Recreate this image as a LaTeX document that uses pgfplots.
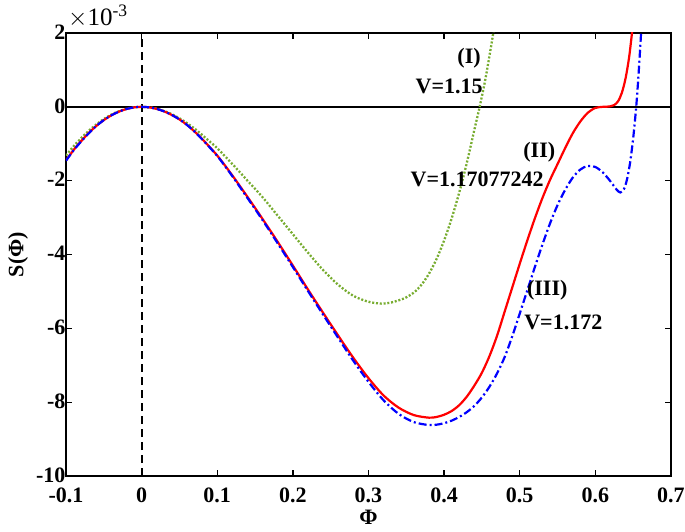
\documentclass[border=0pt]{standalone}
\usepackage{pgfplots}
\pgfplotsset{compat=1.18}
\usepackage{fontspec}
\setmainfont{Liberation Serif}
\definecolor{mgreen}{rgb}{0.466,0.674,0.188}
\begin{document}
\begin{tikzpicture}
\begin{axis}[
  at={(0,0)}, anchor=south west,
  scale only axis, width=605pt, height=443pt,
  xmin=-0.1, xmax=0.7, ymin=-10, ymax=2,
  xtick={-0.1,0,0.1,0.2,0.3,0.4,0.5,0.6,0.7},
  xticklabels={-0.1,0,0.1,0.2,0.3,0.4,0.5,0.6,0.7},
  ytick={-10,-8,-6,-4,-2,0,2},
  yticklabels={-10,-8,-6,-4,-2,0,2},
  tick align=inside, major tick length=6pt,
  xtick pos=both, ytick pos=both,
  axis line style={line width=1.5pt},
  tick style={line width=1.3pt, black},
  ticklabel style={font=\fontsize{22}{24}\selectfont\bfseries},
  yticklabel style={xshift=3pt, yshift=1pt},
  xticklabel style={yshift=-8pt},
  xlabel={Φ}, ylabel={S(Φ)},
  label style={font=\fontsize{22}{24}\selectfont\bfseries},
  xlabel style={at={(axis description cs:0.5,-0.094)}, anchor=center},
  ylabel style={at={(axis description cs:-0.079,0.5)}, anchor=center},
  clip mode=individual,
]
\addplot[black, line width=1.5pt] coordinates {(-0.1,0) (0.7,0)};
\addplot[black, line width=2pt, dash pattern=on 8pt off 5pt] coordinates {(0,-10) (0,2)};

% (I) V=1.15
\addplot[mgreen, line width=2.3pt, dash pattern=on 2pt off 1.8pt, smooth] coordinates {
(-0.1,-1.32) (-0.09,-1.07) (-0.08,-0.85) (-0.07,-0.65) (-0.06,-0.48) (-0.05,-0.33)
(-0.04,-0.21) (-0.03,-0.12) (-0.02,-0.053) (-0.01,-0.013) (0,0) (0.01,-0.013)
(0.02,-0.052) (0.03,-0.115) (0.04,-0.2) (0.05,-0.31) (0.06,-0.44) (0.07,-0.59)
(0.08,-0.76) (0.09,-0.94) (0.1,-1.12) (0.12,-1.55) (0.14,-2.0) (0.16,-2.45)
(0.18,-2.95) (0.2,-3.45) (0.22,-3.95) (0.24,-4.42) (0.26,-4.82) (0.28,-5.12)
(0.3,-5.28) (0.317,-5.33) (0.33,-5.3) (0.347,-5.19) (0.36,-5.03) (0.37,-4.82)
(0.38,-4.52) (0.39,-4.12) (0.4,-3.62) (0.41,-3.02) (0.42,-2.32) (0.43,-1.52)
(0.44,-0.62) (0.447,0) (0.455,0.8) (0.465,2.0) (0.47,2.7)};

% (II) V=1.17077242
\addplot[red, line width=2.2pt, smooth] coordinates {
(-0.1,-1.45) (-0.09,-1.17) (-0.08,-0.93) (-0.07,-0.71) (-0.06,-0.52) (-0.05,-0.36)
(-0.04,-0.23) (-0.03,-0.13) (-0.02,-0.058) (-0.01,-0.015) (0,0) (0.01,-0.014)
(0.02,-0.056) (0.03,-0.125) (0.04,-0.22) (0.05,-0.34) (0.06,-0.49) (0.07,-0.67)
(0.08,-0.87) (0.1,-1.32) (0.12,-1.86) (0.14,-2.44) (0.16,-3.04) (0.18,-3.66)
(0.2,-4.3) (0.22,-4.95) (0.24,-5.58) (0.26,-6.2) (0.28,-6.8) (0.3,-7.35)
(0.32,-7.82) (0.34,-8.15) (0.36,-8.35) (0.38,-8.42) (0.39,-8.40) (0.40,-8.34)
(0.41,-8.24) (0.42,-8.08) (0.43,-7.85) (0.44,-7.55) (0.45,-7.2) (0.46,-6.75)
(0.47,-6.2) (0.48,-5.55) (0.49,-4.9) (0.50,-4.25) (0.51,-3.62) (0.52,-3.02)
(0.53,-2.47) (0.54,-1.98) (0.55,-1.55) (0.56,-1.12) (0.57,-0.72) (0.58,-0.40)
(0.59,-0.16) (0.60,-0.03) (0.61,0) (0.615,0.003) (0.62,0.015) (0.625,0.05)
(0.63,0.15) (0.635,0.38) (0.64,0.78) (0.645,1.4) (0.65,2.3)};

% (III) V=1.172
\addplot[blue, line width=2.2pt, dash pattern=on 8pt off 3pt on 2pt off 3pt, smooth] coordinates {
(-0.1,-1.46) (-0.09,-1.18) (-0.08,-0.94) (-0.07,-0.72) (-0.06,-0.52) (-0.05,-0.36)
(-0.04,-0.23) (-0.03,-0.13) (-0.02,-0.058) (-0.01,-0.015) (0,0) (0.01,-0.014)
(0.02,-0.056) (0.03,-0.125) (0.04,-0.22) (0.05,-0.34) (0.06,-0.49) (0.07,-0.67)
(0.08,-0.88) (0.1,-1.33) (0.12,-1.88) (0.14,-2.47) (0.16,-3.07) (0.18,-3.7)
(0.2,-4.34) (0.22,-4.99) (0.24,-5.63) (0.26,-6.26) (0.28,-6.88) (0.3,-7.45)
(0.32,-7.95) (0.34,-8.32) (0.36,-8.54) (0.38,-8.62) (0.39,-8.61) (0.40,-8.57)
(0.41,-8.50) (0.42,-8.40) (0.43,-8.27) (0.44,-8.10) (0.45,-7.87) (0.46,-7.58)
(0.47,-7.22) (0.48,-6.78) (0.49,-6.22) (0.50,-5.6) (0.51,-4.97) (0.52,-4.34)
(0.53,-3.73) (0.54,-3.16) (0.55,-2.66) (0.56,-2.25) (0.57,-1.92) (0.58,-1.7)
(0.59,-1.6) (0.60,-1.63) (0.61,-1.78) (0.62,-2.02) (0.628,-2.24) (0.633,-2.32)
(0.638,-2.22) (0.642,-1.95) (0.646,-1.5) (0.65,-0.85) (0.654,0) (0.657,0.85)
(0.66,1.85) (0.662,2.6)};

\node[font=\fontsize{22}{24}\selectfont\bfseries] at (axis cs:0.433,1.32) {(I)};
\node[font=\fontsize{22}{24}\selectfont\bfseries] at (axis cs:0.4066,0.54) {V=1.15};
\node[font=\fontsize{22}{24}\selectfont\bfseries] at (axis cs:0.5258,-1.22) {(II)};
\node[font=\fontsize{22}{24}\selectfont\bfseries] at (axis cs:0.4437,-1.97) {V=1.17077242};
\node[font=\fontsize{22}{24}\selectfont\bfseries] at (axis cs:0.5364,-4.97) {(III)};
\node[font=\fontsize{22}{24}\selectfont\bfseries] at (axis cs:0.5576,-5.84) {V=1.172};
\node[anchor=south west, inner sep=0pt, xshift=2pt, yshift=5pt, font=\fontsize{25}{27}\selectfont] at (rel axis cs:0,1) {$\times$10\textsuperscript{-3}};
\end{axis}
\pgfresetboundingbox
\path (-66pt,-55pt) rectangle (619pt,476pt);
\end{tikzpicture}
\end{document}
